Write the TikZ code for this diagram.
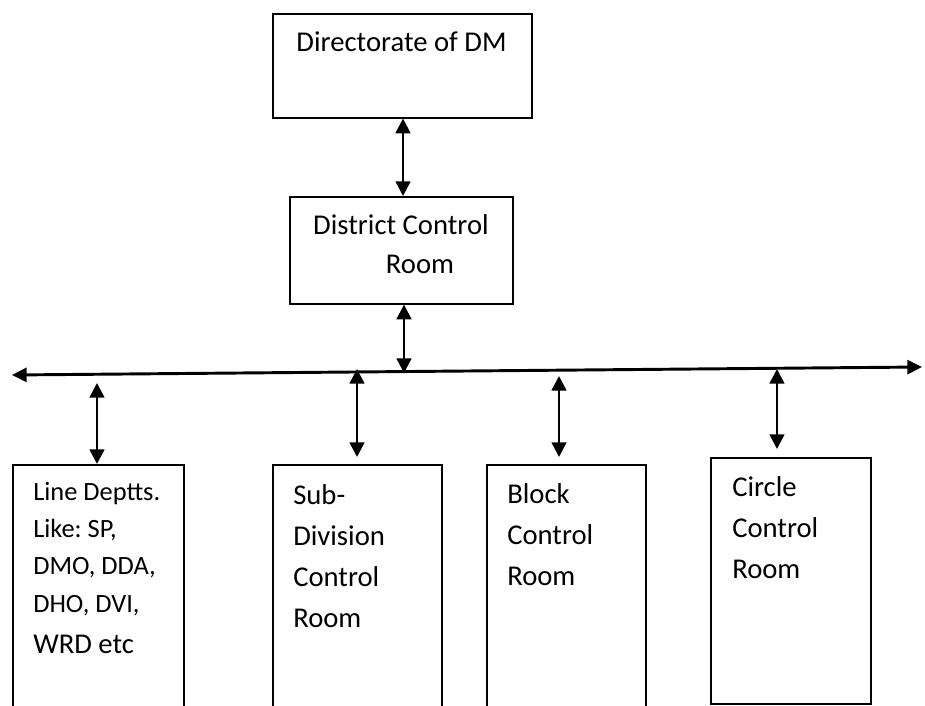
\documentclass[tikz,border=0pt]{standalone}
\usepackage{fontspec}
\setmainfont{Carlito}
\usetikzlibrary{arrows.meta}
\frenchspacing
\begin{document}
\begin{tikzpicture}[x=0.75pt,y=-0.75pt,
  box/.style={draw, line width=1.2pt, inner sep=0pt, anchor=north west},
  link/.style={line width=1.9pt, {Triangle[length=11pt,width=11pt]}-{Triangle[length=11pt,width=11pt]}},
  bus/.style={line width=2.2pt, {Triangle[length=11pt,width=10.5pt]}-{Triangle[length=11pt,width=10.5pt]}},
  big/.style={font=\fontsize{21.5pt}{30.75pt}\selectfont\frenchspacing, inner sep=0pt},
  small/.style={font=\fontsize{19.8pt}{28pt}\selectfont\frenchspacing, inner sep=0pt},
  lefttext/.style={big, align=left, anchor=base west}]
\useasboundingbox (0,0) rectangle (925,706);
% boxes
\node[box, minimum width=259*0.75pt, minimum height=104*0.75pt] (dm) at (272,13) {};
\node[box, minimum width=223*0.75pt, minimum height=107*0.75pt] (dcr) at (289,196) {};
\node[box, minimum width=171*0.75pt, minimum height=300*0.75pt] (b1) at (12,464) {};
\node[box, minimum width=169*0.75pt, minimum height=300*0.75pt] (b2) at (272,464) {};
\node[box, minimum width=159*0.75pt, minimum height=300*0.75pt] (b3) at (486,464) {};
\node[box, minimum width=160*0.75pt, minimum height=246*0.75pt] (b4) at (710,457) {};
% texts (anchor = baseline of the last line)
\node[big, anchor=base] (dmt) at (401.5,52) {Directorate of DM};
\node[big, anchor=base] (dcrt1) at (401,235) {District Control};
\node[big, anchor=base] (dcrt2) at (420,273) {Room};
\node[lefttext, small] (b1t) at (33,653) {Line Deptts.\\Like: SP,\\DMO, DDA,\\DHO, DVI,\\[2.75pt]\fontsize{21.5pt}{30.75pt}\selectfont WRD etc};
\node[lefttext] (b2t) at (293,627) {\hbox{Sub-}\\Division\\Control\\Room};
\node[lefttext] (b3t) at (507,585) {Block\\Control\\Room};
\node[lefttext] (b4t) at (732,578) {Circle\\Control\\Room};
% bus
\coordinate (busL) at (12,375);
\coordinate (busR) at (922,367);
\draw[bus] (busL) -- (busR);
% connectors
\draw[link] (403,0 |- dm.south) -- (403,0 |- dcr.north);
\coordinate (dbus) at (404,373);
\draw[link] (404,0 |- dcr.south) -- (dbus);
\coordinate (t1) at (97,383);
\coordinate (t2) at (357,369);
\coordinate (t3) at (559,376);
\coordinate (t4) at (777,369);
\draw[link] (t1) -- (97,0 |- b1.north);
\draw[link] (t2) -- (357,457);
\draw[link] (t3) -- (559,457);
\draw[link] (t4) -- (777,449);
\end{tikzpicture}
\end{document}
